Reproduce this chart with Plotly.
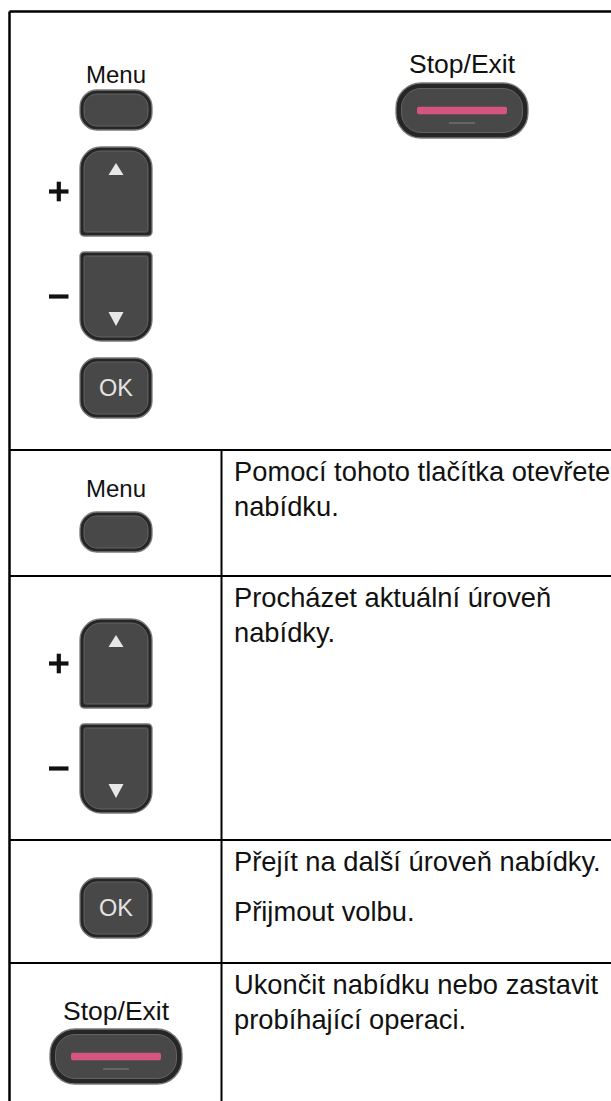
import plotly.graph_objects as go

# ---------------- data ----------------
top_labels = ["Menu", "Stop/Exit"]
row_buttons = ["menu", "updown", "ok", "stop"]
row_descriptions = [
    ["Pomocí tohoto tlačítka otevřete", "nabídku."],
    ["Procházet aktuální úroveň", "nabídky."],
    ["Přejít na další úroveň nabídky.", "Přijmout volbu."],
    ["Ukončit nabídku nebo zastavit", "probíhající operaci."],
]

# ---------------- layout constants ----------------
W, H = 611, 1101
FONT = "Liberation Sans, Arial, Helvetica, sans-serif"
row_edges = [450, 576, 840, 963, H]
col_split = 221.5
desc_x = 232
desc_size = 27.3
desc_line_gap = [35, 35, 50, 35]
label_size = 24

RIM = "#7a7a7a"
DARK = "#262626"
FACE = "#484848"
FACE_LINE = "#626262"
PINK = "#d4567e"
INK = "#111111"

shapes = []
annotations = []


def rr_path(x0, y0, x1, y1, rtl, rtr, rbr, rbl):
    k = 0.5523
    p = f"M {x0+rtl},{y0} L {x1-rtr},{y0} "
    p += f"C {x1-rtr+rtr*k},{y0} {x1},{y0+rtr-rtr*k} {x1},{y0+rtr} "
    p += f"L {x1},{y1-rbr} "
    p += f"C {x1},{y1-rbr+rbr*k} {x1-rbr+rbr*k},{y1} {x1-rbr},{y1} "
    p += f"L {x0+rbl},{y1} "
    p += f"C {x0+rbl-rbl*k},{y1} {x0},{y1-rbl+rbl*k} {x0},{y1-rbl} "
    p += f"L {x0},{y0+rtl} "
    p += f"C {x0},{y0+rtl-rtl*k} {x0+rtl-rtl*k},{y0} {x0+rtl},{y0} Z"
    return p


def button(x0, y0, x1, y1, radii, inset=4):
    shapes.append(dict(type="path", path=rr_path(x0, y0, x1, y1, *radii),
                       fillcolor=DARK, line=dict(color=RIM, width=1.3), layer="above"))
    ir = [max(r - inset, 1.5) for r in radii]
    shapes.append(dict(type="path",
                       path=rr_path(x0 + inset, y0 + inset, x1 - inset, y1 - inset, *ir),
                       fillcolor=FACE, line=dict(color=FACE_LINE, width=1), layer="above"))


def label(x, y, text, size=label_size, color=INK):
    annotations.append(dict(x=x, y=y, xref="x", yref="y", text=text, showarrow=False,
                            xanchor="center", yanchor="middle",
                            font=dict(family=FONT, size=size, color=color)))


def menu_button(cx, ylab, ytop):
    label(cx, ylab, top_labels[0])
    button(cx - 36, ytop, cx + 36, ytop + 40, [17, 17, 17, 17])


def stop_button(cx, ylab, ytop):
    label(cx, ylab, top_labels[1], size=26.5)
    x0, x1, y0, y1 = cx - 66, cx + 66, ytop, ytop + 55
    button(x0, y0, x1, y1, [25, 25, 25, 25], inset=5.5)
    cy = (y0 + y1) / 2
    shapes.append(dict(type="path", path=rr_path(x0 + 21, cy - 3.7, x1 - 21, cy + 3.7, 2, 2, 2, 2),
                       fillcolor=PINK, line=dict(width=0), layer="above"))
    shapes.append(dict(type="line", x0=cx - 13, x1=cx + 13, y0=cy + 12.5, y1=cy + 12.5,
                       line=dict(color="#6e6e6e", width=1.5), layer="above"))


def updown(cx, ytop):
    # up key
    y0, y1 = ytop, ytop + 89
    button(cx - 36, y0, cx + 36, y1, [21, 21, 4, 4])
    shapes.append(dict(type="path",
                       path=f"M {cx-7.5},{y0+28} L {cx+7.5},{y0+28} L {cx},{y0+16} Z",
                       fillcolor="#e8e8e8", line=dict(width=0), layer="above"))
    cy = (y0 + y1) / 2
    shapes.append(dict(type="rect", x0=49, x1=68.5, y0=cy - 2.1, y1=cy + 2.1,
                       fillcolor=INK, line=dict(width=0)))
    shapes.append(dict(type="rect", x0=56.7, x1=60.9, y0=cy - 9.8, y1=cy + 9.8,
                       fillcolor=INK, line=dict(width=0)))
    # down key
    d0, d1 = ytop + 105, ytop + 194
    button(cx - 36, d0, cx + 36, d1, [4, 4, 21, 21])
    shapes.append(dict(type="path",
                       path=f"M {cx-7.5},{d1-29} L {cx+7.5},{d1-29} L {cx},{d1-15} Z",
                       fillcolor="#e8e8e8", line=dict(width=0), layer="above"))
    dcy = (d0 + d1) / 2
    shapes.append(dict(type="rect", x0=49, x1=68.5, y0=dcy - 2.1, y1=dcy + 2.1,
                       fillcolor=INK, line=dict(width=0)))


def ok_button(cx, ytop):
    button(cx - 36, ytop, cx + 36, ytop + 60, [17, 17, 17, 17])
    label(cx, ytop + 30, "OK", size=23.5, color="#e4e4e4")


# ---------------- frame & table lines ----------------
shapes.append(dict(type="line", x0=9.5, x1=W, y0=11.5, y1=11.5, line=dict(color="black", width=2.5)))
shapes.append(dict(type="line", x0=9.5, x1=9.5, y0=11.5, y1=H, line=dict(color="black", width=2.5)))
for yy in row_edges[:-1]:
    shapes.append(dict(type="line", x0=9.5, x1=W, y0=yy, y1=yy, line=dict(color="black", width=2)))
shapes.append(dict(type="line", x0=col_split, x1=col_split, y0=row_edges[0], y1=H,
                   line=dict(color="black", width=2)))

# ---------------- top panel ----------------
menu_button(116, 74, 90)
stop_button(462, 64, 83)
updown(116, 147)
ok_button(116, 358)

# ---------------- table rows ----------------
cx = 116
for i, kind in enumerate(row_buttons):
    top = row_edges[i]
    if kind == "menu":
        menu_button(cx, top + 38, top + 62)
    elif kind == "updown":
        updown(cx, top + 43)
    elif kind == "ok":
        ok_button(cx, top + 38)
    elif kind == "stop":
        stop_button(cx, top + 48, top + 66)
    y = top + 21.5
    for j, line_text in enumerate(row_descriptions[i]):
        annotations.append(dict(x=desc_x, y=y + j * desc_line_gap[i], xref="x", yref="y",
                                text=line_text, showarrow=False, xanchor="left", yanchor="middle",
                                font=dict(family=FONT, size=desc_size, color=INK)))

fig = go.Figure()
fig.add_trace(go.Scatter(x=[0, W], y=[0, H], mode="markers", marker=dict(opacity=0),
                         hoverinfo="skip", showlegend=False))
fig.update_layout(
    width=W, height=H,
    margin=dict(l=0, r=0, t=0, b=0),
    paper_bgcolor="white", plot_bgcolor="white",
    xaxis=dict(range=[0, W], visible=False, fixedrange=True),
    yaxis=dict(range=[H, 0], visible=False, fixedrange=True),
    shapes=shapes, annotations=annotations, showlegend=False,
)
fig.write_html(
    "out.html",
    config={"displayModeBar": False},
    post_script="document.body.style.margin='0';document.body.style.overflow='hidden';",
)
